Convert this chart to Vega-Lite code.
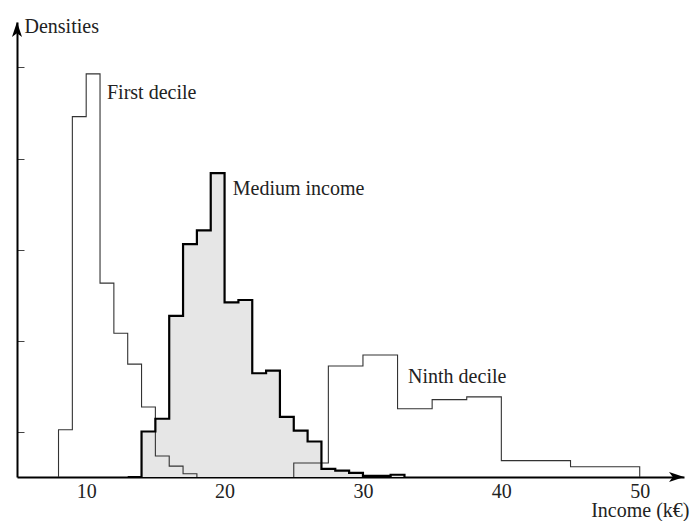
{
  "$schema": "https://vega.github.io/schema/vega-lite/v6.json",
  "autosize": "none",
  "width": 667,
  "height": 455,
  "padding": {"left": 17, "top": 22, "right": 7, "bottom": 44},
  "background": "white",
  "config": {"view": {"stroke": null}},
  "datasets": {
    "hist": [
      {"series": "first", "x": 8, "d": 0},
      {"series": "first", "x": 8, "d": 0.52},
      {"series": "first", "x": 9, "d": 3.96},
      {"series": "first", "x": 10, "d": 4.43},
      {"series": "first", "x": 11, "d": 2.13},
      {"series": "first", "x": 12, "d": 1.58},
      {"series": "first", "x": 13, "d": 1.24},
      {"series": "first", "x": 14, "d": 0.77},
      {"series": "first", "x": 15, "d": 0.23},
      {"series": "first", "x": 16, "d": 0.12},
      {"series": "first", "x": 17, "d": 0.035},
      {"series": "first", "x": 18, "d": 0},
      {"series": "medium", "x": 13, "d": 0},
      {"series": "medium", "x": 14, "d": 0.5},
      {"series": "medium", "x": 15, "d": 0.64},
      {"series": "medium", "x": 16, "d": 1.77},
      {"series": "medium", "x": 17, "d": 2.56},
      {"series": "medium", "x": 18, "d": 2.71},
      {"series": "medium", "x": 19, "d": 3.34},
      {"series": "medium", "x": 20, "d": 1.92},
      {"series": "medium", "x": 21, "d": 1.945},
      {"series": "medium", "x": 22, "d": 1.14},
      {"series": "medium", "x": 23, "d": 1.17},
      {"series": "medium", "x": 24, "d": 0.66},
      {"series": "medium", "x": 25, "d": 0.51},
      {"series": "medium", "x": 26, "d": 0.39},
      {"series": "medium", "x": 27, "d": 0.09},
      {"series": "medium", "x": 28, "d": 0.07},
      {"series": "medium", "x": 29, "d": 0.045},
      {"series": "medium", "x": 30, "d": 0.012},
      {"series": "medium", "x": 31, "d": 0.012},
      {"series": "medium", "x": 32, "d": 0.025},
      {"series": "medium", "x": 33, "d": 0},
      {"series": "ninth", "x": 25, "d": 0},
      {"series": "ninth", "x": 25, "d": 0.154},
      {"series": "ninth", "x": 27.5, "d": 1.22},
      {"series": "ninth", "x": 30, "d": 1.34},
      {"series": "ninth", "x": 32.5, "d": 0.75},
      {"series": "ninth", "x": 35, "d": 0.85},
      {"series": "ninth", "x": 37.5, "d": 0.88},
      {"series": "ninth", "x": 40, "d": 0.18},
      {"series": "ninth", "x": 45, "d": 0.113},
      {"series": "ninth", "x": 50, "d": 0}
    ],
    "notes": [
      {"label": "First decile", "x": 11.5, "d": 4.15},
      {"label": "Medium income", "x": 20.59, "d": 3.1},
      {"label": "Ninth decile", "x": 33.26, "d": 1.03}
    ],
    "arrows": [
      {"arrow": "x", "x": 52.66, "d": 0},
      {"arrow": "y", "x": 5, "d": 4.918}
    ]
  },
  "encoding": {
    "x": {
      "field": "x", "type": "quantitative",
      "scale": {"domain": [5, 53.2], "nice": false, "zero": false},
      "axis": {
        "values": [10, 20, 30, 40, 50],
        "grid": false, "ticks": false,
        "domainColor": "black", "domainWidth": 2,
        "labelFont": "'Liberation Serif', 'DejaVu Serif', serif", "labelFontSize": 20, "labelColor": "#222",
        "labelPadding": 4,
        "title": "Income (k€)",
        "titleFont": "'Liberation Serif', 'DejaVu Serif', serif", "titleFontSize": 20, "titleFontWeight": "normal", "titleColor": "#222",
        "titleAlign": "right", "titleBaseline": "alphabetic", "titleAnchor": null,
        "titleX": 672, "titleY": 39
      }
    },
    "y": {
      "field": "d", "type": "quantitative",
      "scale": {"domain": [0, 5], "nice": false, "zero": true},
      "axis": {
        "values": [0.5, 1.5, 2.5, 3.5, 4.5],
        "grid": false, "labels": false,
        "ticks": true, "tickSize": -7, "tickColor": "#444", "tickWidth": 1,
        "domainColor": "black", "domainWidth": 2,
        "title": "Densities",
        "titleFont": "'Liberation Serif', 'DejaVu Serif', serif", "titleFontSize": 20, "titleFontWeight": "normal", "titleColor": "#222",
        "titleAngle": 0, "titleAlign": "left", "titleBaseline": "alphabetic", "titleAnchor": null,
        "titleX": 7, "titleY": 10
      }
    }
  },
  "layer": [
    {
      "data": {"name": "hist"},
      "transform": [{"filter": "datum.series == 'medium'"}],
      "mark": {"type": "area", "interpolate": "step-after", "color": "#e6e6e6"},
      "encoding": {"order": {"value": null}}
    },
    {
      "data": {"name": "hist"},
      "transform": [{"filter": "datum.series == 'first'"}],
      "mark": {"type": "line", "interpolate": "step-after", "color": "#333", "strokeWidth": 1.1},
      "encoding": {"order": {"value": null}}
    },
    {
      "data": {"name": "hist"},
      "transform": [{"filter": "datum.series == 'ninth'"}],
      "mark": {"type": "line", "interpolate": "step-after", "color": "#333", "strokeWidth": 1.1},
      "encoding": {"order": {"value": null}}
    },
    {
      "data": {"name": "hist"},
      "transform": [{"filter": "datum.series == 'medium'"}],
      "mark": {"type": "line", "interpolate": "step-after", "color": "black", "strokeWidth": 2.2},
      "encoding": {"order": {"value": null}}
    },
    {
      "data": {"name": "notes"},
      "mark": {"type": "text", "align": "left", "baseline": "alphabetic", "font": "'Liberation Serif', 'DejaVu Serif', serif", "fontSize": 20, "color": "#222"},
      "encoding": {"text": {"field": "label"}}
    },
    {
      "data": {"name": "arrows"},
      "transform": [{"filter": "datum.arrow == 'x'"}],
      "mark": {"type": "point", "filled": true, "color": "black", "opacity": 1, "size": 225, "shape": "M1,0 L-1,-0.67 L-0.5,0 L-1,0.67 Z"}
    },
    {
      "data": {"name": "arrows"},
      "transform": [{"filter": "datum.arrow == 'y'"}],
      "mark": {"type": "point", "filled": true, "color": "black", "opacity": 1, "size": 225, "shape": "M0,-1 L-0.67,1 L0,0.5 L0.67,1 Z"}
    }
  ]
}
